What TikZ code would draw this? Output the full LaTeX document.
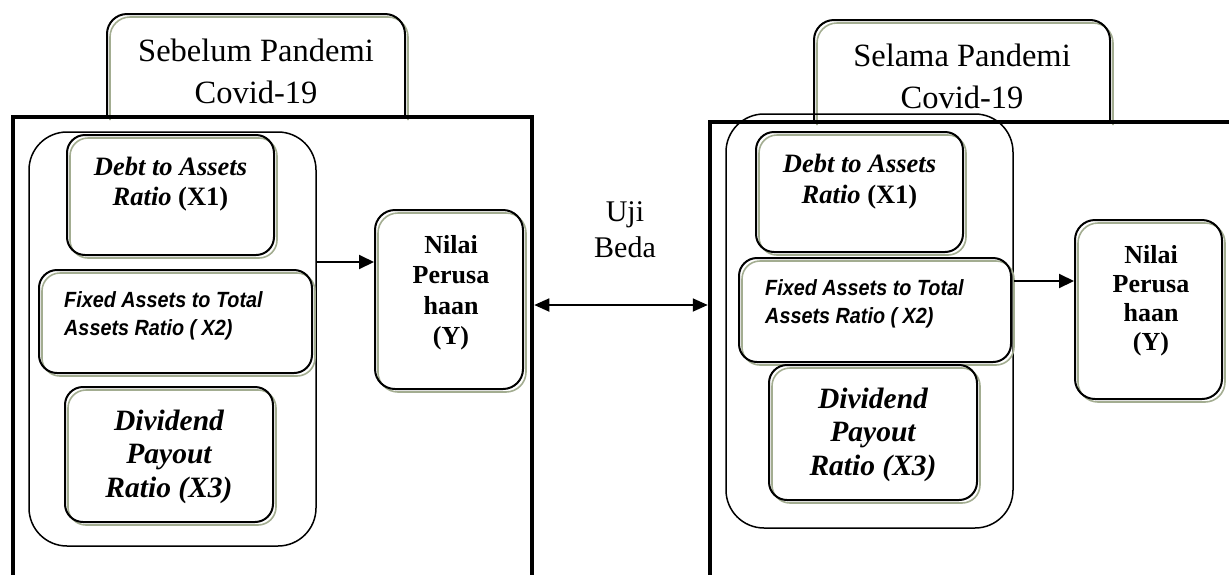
\documentclass[tikz,border=0pt]{standalone}
\usepackage{fontspec}
\setmainfont{Liberation Serif}
\newfontfamily\arialf[FakeStretch=0.9]{Liberation Sans}
\usetikzlibrary{arrows.meta,shadows}
\definecolor{shc}{HTML}{A3AD91}
\begin{document}
\begin{tikzpicture}[x=1pt,y=-1pt,
  sbox/.style={draw=black, line width=2pt, rounded corners=18pt, inner sep=0pt,
    drop shadow={fill=none, draw=shc, line width=1.6pt, opacity=1, shadow xshift=3pt, shadow yshift=-3pt}},
  tbox/.style={draw=black, line width=2pt, rounded corners=20pt,
    drop shadow={fill=none, draw=shc, line width=1.6pt, opacity=1, shadow xshift=3pt, shadow yshift=-3pt}},
  grp/.style={draw=black, line width=1.5pt, rounded corners=38pt, inner sep=0pt},
  frame/.style={draw=black, line width=4.5pt, inner sep=0pt},
  txt/.style={inner sep=0pt, align=center},
  arr/.style={line width=2pt, -{Triangle[length=15pt,width=14pt]}},
  darr/.style={line width=1.8pt, {Triangle[length=15pt,width=13pt]}-{Triangle[length=15pt,width=13pt]}}
]
\useasboundingbox (0,0) rectangle (1229,574);

% title boxes (open at the bottom, behind the frame line)
\draw[tbox] (107,117) -- (107,14) -- (405,14) -- (405,117);
\draw[tbox] (814,122) -- (814,20) -- (1110,20) -- (1110,122);
\node[txt, font=\fontsize{32.5}{42}\selectfont] (lt) at (256,71) {Sebelum Pandemi\\Covid-19};
\node[txt, font=\fontsize{32.5}{42}\selectfont] (rt) at (962,76) {Selama Pandemi\\Covid-19};

% frames (open at the bottom, beyond the page)
\node[frame, minimum width=519pt, minimum height=483pt] (lfr) at (272.5,358.5) {};
\node[frame, minimum width=521pt, minimum height=478pt] (rfr) at (970.5,361) {};

% groups
\node[grp, minimum width=287pt, minimum height=414pt] (lgrp) at (172.5,339) {};
\node[grp, minimum width=287pt, minimum height=414pt] (rgrp) at (869.5,321) {};

% left boxes
\node[sbox, minimum width=207pt, minimum height=120pt] (lx1) at (170.5,195) {};
\node[sbox, minimum width=273pt, minimum height=103pt] (lx2) at (175.5,321.5) {};
\node[sbox, minimum width=208pt, minimum height=135pt] (lx3) at (169,454.5) {};
\node[sbox, rounded corners=20pt, minimum width=148pt, minimum height=179pt] (lny) at (449,299.5) {};

% right boxes
\node[sbox, minimum width=207pt, minimum height=120pt] (rx1) at (859.5,192) {};
\node[sbox, minimum width=272pt, minimum height=104pt] (rx2) at (875,310) {};
\node[sbox, minimum width=208pt, minimum height=135pt] (rx3) at (873,432.5) {};
\node[sbox, rounded corners=20pt, minimum width=147pt, minimum height=179pt] (rny) at (1148.5,309.5) {};

% texts
\node[txt, font=\fontsize{26.5}{30}\selectfont\bfseries] (lx1t) at (170.5,184) {\textit{Debt to Assets}\\\textit{Ratio} (X1)};
\node[txt, font=\fontsize{26.5}{31}\selectfont\bfseries] (rx1t) at (859.5,181.5) {\textit{Debt to Assets}\\\textit{Ratio} (X1)};
\node[txt, align=left, anchor=west, font=\arialf\fontsize{22}{28}\selectfont\bfseries\itshape] (lx2t) at (64,316) {Fixed Assets to Total\\Assets Ratio ( X2)};
\node[txt, align=left, anchor=west, font=\arialf\fontsize{22}{28}\selectfont\bfseries\itshape] (rx2t) at (765,304) {Fixed Assets to Total\\Assets Ratio ( X2)};
\node[txt, font=\fontsize{29.5}{33.5}\selectfont\bfseries\itshape] (lx3t) at (169,456.7) {Dividend\\Payout\\Ratio (X3)};
\node[txt, font=\fontsize{29.5}{33.5}\selectfont\bfseries\itshape] (rx3t) at (873,434.7) {Dividend\\Payout\\Ratio (X3)};
\node[txt, font=\fontsize{26}{30.5}\selectfont\bfseries] (lnyt) at (451,292.6) {Nilai\\Perusa\\haan\\(Y)};
\node[txt, font=\fontsize{26}{29}\selectfont\bfseries] (rnyt) at (1151,300.4) {Nilai\\Perusa\\haan\\(Y)};
\node[txt, font=\fontsize{30}{36}\selectfont] (uji) at (625,230) {Uji\\Beda};

% connectors
\coordinate (la) at (0,262);
\coordinate (ra) at (0,281);
\coordinate (da) at (0,305);
\draw[arr] (lgrp.east |- la) -- (lny.west |- la);
\draw[arr] (rgrp.east |- ra) -- (rny.west |- ra);
\draw[darr] (lfr.east |- da) -- (rfr.west |- da);
\end{tikzpicture}
\end{document}
